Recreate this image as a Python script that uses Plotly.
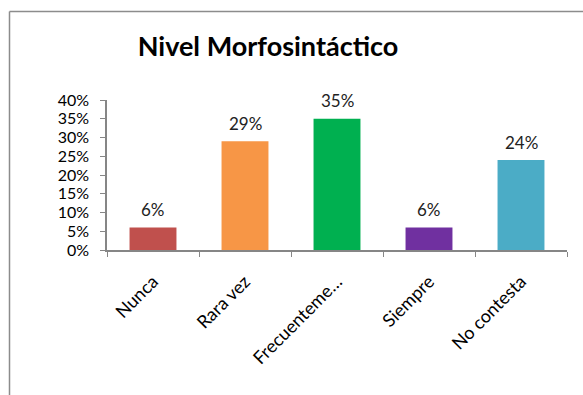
import plotly.graph_objects as go

# Survey answers for the morphosyntactic level
categories = ["Nunca", "Rara vez", "Frecuenteme…", "Siempre", "No contesta"]
percentages = [6, 29, 35, 6, 24]
bar_colors = ["#C0504D", "#F79646", "#00B050", "#7030A0", "#4BACC6"]
y_tick_values = [0, 5, 10, 15, 20, 25, 30, 35, 40]
y_tick_labels = ["0%", "5%", "10%", "15%", "20%", "25%", "30%", "35%", "40%"]

W, H = 583, 395
L, R, T, B = 107, 16, 100, 145
plot_w = W - L - R
plot_h = H - T - B

FONT = "Lato, Carlito, Calibri, sans-serif"

fig = go.Figure(
    go.Bar(
        x=categories,
        y=percentages,
        marker=dict(color=bar_colors, line=dict(width=0)),
        width=0.51,
        hoverinfo="skip",
    )
)

# Value labels floating above each bar
for cat, val in zip(categories, percentages):
    fig.add_annotation(
        x=cat, y=val, text=f"{val}%", showarrow=False,
        yanchor="middle", yshift=18,
        font=dict(size=17, color="#222222", family=FONT),
    )


def px_x(p):
    return (p - L) / plot_w


def px_y(p):
    return (H - B - p) / plot_h


# Chart frame: top and left edges of the outer border
frame = dict(type="line", xref="paper", yref="paper",
             line=dict(color="#8C8C8C", width=1.5))
fig.add_shape(**frame, x0=px_x(9.5), x1=px_x(W + 5), y0=px_y(11.5), y1=px_y(11.5))
fig.add_shape(**frame, x0=px_x(9.5), x1=px_x(9.5), y0=px_y(11.5), y1=px_y(H + 5))

fig.update_layout(
    width=W,
    height=H,
    margin=dict(l=L, r=R, t=T, b=B),
    paper_bgcolor="white",
    plot_bgcolor="white",
    showlegend=False,
    bargap=0.49,
    title=dict(
        text="<b>Nivel Morfosintáctico</b>",
        x=268 / W,
        xref="container",
        xanchor="center",
        y=1 - 47 / H,
        yref="container",
        yanchor="middle",
        font=dict(size=27, color="#000000", family=FONT),
    ),
    font=dict(family=FONT, color="#000000"),
)

fig.update_xaxes(
    type="category",
    showline=True,
    linecolor="#868686",
    linewidth=2,
    ticks="outside",
    tickson="boundaries",
    ticklen=5,
    tickcolor="#868686",
    tickangle=-45,
    ticklabelstandoff=12,
    tickfont=dict(size=18, family=FONT, color="#000000"),
    showgrid=False,
    fixedrange=True,
)

fig.update_yaxes(
    range=[0, 40],
    tickvals=y_tick_values,
    ticktext=y_tick_labels,
    showline=True,
    linecolor="#868686",
    linewidth=1.5,
    ticks="outside",
    ticklen=5,
    tickcolor="#868686",
    ticklabelstandoff=8,
    tickfont=dict(size=16, family=FONT, color="#000000"),
    showgrid=False,
    zeroline=False,
    fixedrange=True,
)

fig.write_html("out.html")
